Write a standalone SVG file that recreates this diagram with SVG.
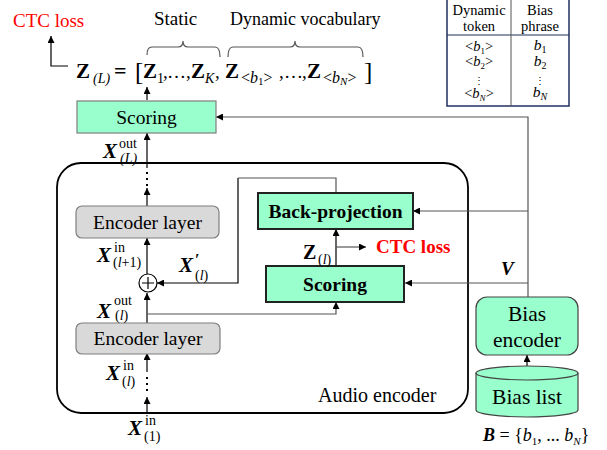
<svg xmlns="http://www.w3.org/2000/svg" width="607" height="450" viewBox="0 0 607 450">
<defs>
<marker id="ah" viewBox="0 0 10 10" refX="10" refY="5" markerWidth="7" markerHeight="7" markerUnits="userSpaceOnUse" orient="auto"><path d="M0,0 L10,5 L0,10 z" fill="#000"/></marker>
</defs>
<style>
.t{font-family:"Liberation Serif","Times New Roman",serif;fill:#000}
.m{font-family:"Liberation Serif","Times New Roman",serif;fill:#000}
.red{fill:#ff0000}
.c{stroke:#555;stroke-width:1.2;fill:none}
.cb{stroke:#000;stroke-width:1.2;fill:none}
.aqua{fill:#99ffcc}
.gray{fill:#d9d9d9;stroke:#7f7f7f;stroke-width:1.2}
.X{font-family:"Liberation Serif",serif;font-weight:bold;font-style:italic;font-size:21px}
.sup{font-family:"Liberation Serif",serif;font-size:14px}
.sub{font-family:"Liberation Serif",serif;font-size:14px;font-style:italic}
.subn{font-family:"Liberation Serif",serif;font-size:14px}
</style>
<rect width="607" height="450" fill="#fff"/>

<!-- top texts -->
<text class="t red" x="13" y="27" font-size="19">CTC loss</text>
<text class="t" x="154" y="25" font-size="19">Static</text>
<text class="t" x="230" y="25" font-size="18">Dynamic vocabulary</text>
<g id="braces" class="c" stroke="#777">
<path d="M147,55 Q147,47 152,47 L178,47 Q183,47 183,41 Q183,47 188,47 L215,47 Q220,47 220,57"/>
<path d="M228,57 Q228,47 233,47 L290,47 Q295,47 295,41 Q295,47 300,47 L358,47 Q363,47 363,57"/>
</g>

<!-- equation -->
<g id="equation" class="m">
<text x="76" y="78" font-size="21" font-weight="bold">Z</text>
<text x="93" y="83" font-size="14" font-style="italic">(L)</text>
<text x="114" y="78" font-size="22" font-weight="bold">=</text>
<text x="135" y="80" font-size="25">[</text>
<text x="143" y="78" font-size="21" font-weight="bold">Z</text>
<text x="157" y="83" font-size="14">1</text>
<text x="163" y="78" font-size="19">,</text>
<text x="167" y="78" font-size="19">…</text>
<text x="186" y="78" font-size="19">,</text>
<text x="191" y="78" font-size="21" font-weight="bold">Z</text>
<text x="205" y="83" font-size="14" font-style="italic">K</text>
<text x="215" y="78" font-size="19">,</text>
<text x="225" y="78" font-size="21" font-weight="bold">Z</text>
<text x="241" y="83" font-size="16">&lt;<tspan font-style="italic">b</tspan><tspan font-size="11" dy="2">1</tspan><tspan dy="-2">&gt;</tspan></text>
<text x="279" y="78" font-size="19">,</text>
<text x="284" y="78" font-size="19">…</text>
<text x="302" y="78" font-size="19">,</text>
<text x="307" y="78" font-size="21" font-weight="bold">Z</text>
<text x="323" y="83" font-size="16">&lt;<tspan font-style="italic">b</tspan><tspan font-size="11" dy="2" font-style="italic">N</tspan><tspan dy="-2">&gt;</tspan></text>
<text x="364" y="80" font-size="25">]</text>
</g>

<!-- table -->
<g id="table">
<rect x="447" y="-2" width="122" height="108" fill="#fff" stroke="#1f2f5f" stroke-width="1.5"/>
<line x1="447" y1="35" x2="569" y2="35" stroke="#1f2f5f" stroke-width="1.2"/>
<line x1="511" y1="-2" x2="511" y2="106" stroke="#555" stroke-width="1"/>
<text class="t" font-size="14.5" text-anchor="middle"><tspan x="479" y="15">Dynamic</tspan><tspan x="479" y="31">token</tspan></text>
<text class="t" font-size="14.5" text-anchor="middle"><tspan x="540" y="15">Bias</tspan><tspan x="540" y="31">phrase</tspan></text>
<text class="t" font-size="14.5" text-anchor="middle" x="479" y="51">&lt;<tspan font-style="italic">b</tspan><tspan font-size="9" dy="3">1</tspan><tspan dy="-3">&gt;</tspan></text>
<text class="t" font-size="14.5" text-anchor="middle" x="479" y="66">&lt;<tspan font-style="italic">b</tspan><tspan font-size="9" dy="3">2</tspan><tspan dy="-3">&gt;</tspan></text>
<text class="t" font-size="10" text-anchor="middle" x="479" y="84">⋮</text>
<text class="t" font-size="14.5" text-anchor="middle" x="479" y="98">&lt;<tspan font-style="italic">b</tspan><tspan font-size="9" dy="3" font-style="italic">N</tspan><tspan dy="-3">&gt;</tspan></text>
<text class="t" font-size="15.5" text-anchor="middle" x="540" y="50"><tspan font-style="italic">b</tspan><tspan font-size="10" dy="3">1</tspan></text>
<text class="t" font-size="15.5" text-anchor="middle" x="540" y="66"><tspan font-style="italic">b</tspan><tspan font-size="10" dy="3">2</tspan></text>
<text class="t" font-size="10" text-anchor="middle" x="540" y="84">⋮</text>
<text class="t" font-size="15.5" text-anchor="middle" x="540" y="97"><tspan font-style="italic">b</tspan><tspan font-size="10" dy="3" font-style="italic">N</tspan></text>
</g>

<!-- audio encoder -->
<g id="audio-encoder">
<rect x="57" y="163" width="411" height="250" rx="24" fill="none" stroke="#000" stroke-width="1.8"/>
<text class="t" x="318" y="402" font-size="20">Audio encoder</text>
</g>

<!-- connectors -->
<g id="connectors">
<path class="cb" d="M68,66 L51,66 L51,36" marker-end="url(#ah)"/>
<path class="cb" d="M147,100 L147,87" marker-end="url(#ah)"/>
<path class="cb" d="M147,168 L147,133" marker-end="url(#ah)"/>
<path d="M147,172 v2 M147,178 v2 M147,184 v2" stroke="#000" stroke-width="2"/>
<path class="cb" d="M147,206 L147,188" marker-end="url(#ah)"/>
<path class="cb" d="M147,274 L147,238" marker-end="url(#ah)"/>
<path class="cb" d="M147,323 L147,293" marker-end="url(#ah)"/>
<path class="c" d="M147,314 L336,314 L336,302" marker-end="url(#ah)"/>
<path class="cb" d="M238,178 L238,283 L157,283" marker-end="url(#ah)"/>
<path class="c" d="M238,178 L336,178 L336,193"/>
<path class="cb" d="M336,266 L336,229" marker-end="url(#ah)"/>
<path class="c" d="M336,247 L366,247" marker-end="url(#ah)"/>
<path class="c" d="M528,297 L528,117 L216,117" marker-end="url(#ah)"/>
<path class="c" d="M528,211 L413,211" marker-end="url(#ah)"/>
<path class="c" d="M528,283 L405,283" marker-end="url(#ah)"/>
<path class="cb" d="M527,367 L527,355" marker-end="url(#ah)"/>
<path class="cb" d="M147,372 L147,353" marker-end="url(#ah)"/>
<path d="M147,377 v2 M147,383 v2 M147,389 v2" stroke="#000" stroke-width="2"/>
<path class="cb" d="M147,414 L147,397" marker-end="url(#ah)"/>
</g>

<!-- nodes -->
<g id="scoring-top">
<rect x="77" y="101" width="139" height="32" class="aqua" stroke="#7f7f7f" stroke-width="1.2"/>
<text class="t" x="146.5" y="124" font-size="19.5" text-anchor="middle">Scoring</text>
</g>
<g id="encoder-layer-top">
<rect x="76" y="206" width="143" height="32" rx="6" class="gray"/>
<text class="t" x="147.5" y="229" font-size="19.5" text-anchor="middle">Encoder layer</text>
</g>
<g id="encoder-layer-bottom">
<rect x="76" y="323" width="144" height="31" rx="6" class="gray"/>
<text class="t" x="148" y="345" font-size="19.5" text-anchor="middle">Encoder layer</text>
</g>
<g id="sum">
<circle cx="148" cy="283" r="9" fill="#fff" stroke="#000" stroke-width="1.2"/>
<path d="M142,283 H154 M148,277 V289" stroke="#000" stroke-width="1.2"/>
</g>
<g id="back-projection">
<rect x="258" y="193" width="155" height="36" class="aqua" stroke="#222" stroke-width="2"/>
<text class="t" x="335.5" y="218" font-size="19.5" font-weight="bold" text-anchor="middle">Back-projection</text>
</g>
<g id="scoring-mid">
<rect x="266" y="266" width="138" height="36" class="aqua" stroke="#222" stroke-width="2"/>
<text class="t" x="335" y="291" font-size="19.5" font-weight="bold" text-anchor="middle">Scoring</text>
</g>
<text class="t red" x="376" y="253" font-size="19" font-weight="bold">CTC loss</text>
<g id="bias-encoder">
<rect x="476" y="297" width="102" height="58" rx="11" class="aqua" stroke="#444" stroke-width="1.2"/>
<text class="t" font-size="21.5" text-anchor="middle"><tspan x="527" y="321">Bias</tspan><tspan x="527" y="347">encoder</tspan></text>
</g>
<g id="bias-list">
<path d="M476,373 L476,410 A51,7 0 0 0 578,410 L578,373" class="aqua" stroke="#444" stroke-width="1.2"/>
<ellipse cx="527" cy="373" rx="51" ry="7" class="aqua" stroke="#444" stroke-width="1.2"/>
<text class="t" x="527" y="404" font-size="21.5" text-anchor="middle">Bias list</text>
</g>
<text class="t" x="483" y="441" font-size="18"><tspan font-weight="bold" font-style="italic">B</tspan> = {<tspan font-style="italic">b</tspan><tspan font-size="11" dy="4">1</tspan><tspan dy="-4">, ... </tspan><tspan font-style="italic">b</tspan><tspan font-size="11" dy="4" font-style="italic">N</tspan><tspan dy="-4">}</tspan></text>

<!-- math labels -->
<g id="labels">
<text class="X" x="103" y="158">X</text>
<text class="sup" x="119" y="148">out</text>
<text class="sub" x="120" y="163">(L)</text>

<text class="X" x="97" y="262">X</text>
<text class="sup" x="114" y="252">in</text>
<text class="subn" x="113" y="267">(<tspan font-style="italic">l</tspan>+1)</text>

<text class="X" x="179" y="272">X</text>
<text class="t" x="195" y="265" font-size="16" font-weight="bold">′</text>
<text class="subn" x="195" y="280">(<tspan font-style="italic">l</tspan>)</text>

<text class="m" x="303" y="259" font-size="20" font-weight="bold">Z</text>
<text class="subn" x="318" y="264">(<tspan font-style="italic">l</tspan>)</text>

<text class="X" x="97" y="318">X</text>
<text class="sup" x="114" y="305">out</text>
<text class="subn" x="115" y="320">(<tspan font-style="italic">l</tspan>)</text>

<text class="X" x="106" y="380">X</text>
<text class="sup" x="123" y="370">in</text>
<text class="subn" x="122" y="386">(<tspan font-style="italic">l</tspan>)</text>

<text class="X" x="128" y="435">X</text>
<text class="sup" x="145" y="425">in</text>
<text class="subn" x="144" y="441">(1)</text>

<text x="501" y="275" font-family="Liberation Serif" font-weight="bold" font-style="italic" font-size="19">V</text>
</g>
</svg>
